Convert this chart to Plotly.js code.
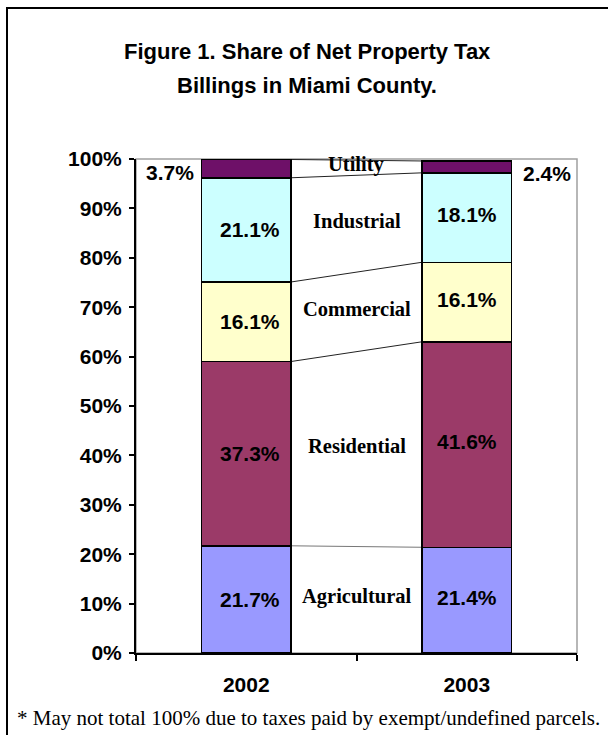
<!DOCTYPE html>
<html>
<head>
<meta charset="utf-8">
<script src="https://cdn.plot.ly/plotly-3.0.1.min.js"></script>
<style>
  html, body { margin: 0; padding: 0; background: #ffffff; }
  #frame { position: absolute; left: 6px; top: 7px; width: 900px; height: 900px; border: 2px solid #000; box-sizing: border-box; }
  #chart { position: absolute; left: 0; top: 0; width: 608px; height: 735px; }
</style>
</head>
<body>
<div id="frame"></div>
<div id="chart"></div>
<script>
// ---- data ----
const years = ['2002', '2003'];
const categories = ['Agricultural', 'Residential', 'Commercial', 'Industrial', 'Utility'];
const agricultural = [21.7, 21.4];
const residential = [37.3, 41.6];
const commercial = [16.1, 16.1];
const industrial = [21.1, 18.1];
const utility = [3.7, 2.4];
const yTickValues = [0, 10, 20, 30, 40, 50, 60, 70, 80, 90, 100];
const yTickLabels = ['0%', '10%', '20%', '30%', '40%', '50%', '60%', '70%', '80%', '90%', '100%'];
const titleLines = ['Figure 1. Share of Net Property Tax', 'Billings in Miami County.'];
const footnote = '* May not total 100% due to taxes paid by exempt/undefined parcels.';

// ---- styling ----
const seriesValues = [agricultural, residential, commercial, industrial, utility];
const colors = ['#9999ff', '#9b3a68', '#ffffcc', '#ccffff', '#6e1068'];
const barWidth = 0.405;
const sans = 'Liberation Sans, Arial, sans-serif';
const serif = 'Liberation Serif, Times New Roman, serif';

const traces = seriesValues.map((vals, i) => ({
  type: 'bar',
  name: categories[i],
  x: years,
  y: vals,
  width: barWidth,
  marker: { color: colors[i], line: { color: '#000', width: 1.5 } },
  hoverinfo: 'skip'
}));

// cumulative tops and midpoints
const cum = [], mid = [];
years.forEach((_, j) => {
  let s = 0;
  seriesValues.forEach((vals, i) => {
    if (!cum[i]) { cum[i] = []; mid[i] = []; }
    mid[i][j] = s + vals[j] / 2;
    s += vals[j];
    cum[i][j] = s;
  });
});

const shapes = [
  // plot-area border (grey, top and right)
  { type: 'rect', xref: 'paper', yref: 'paper', x0: 0, x1: 1, y0: 0, y1: 1,
    line: { color: '#a0a0a0', width: 1.5 }, layer: 'below' }
];
// series lines connecting segment tops
cum.forEach((c, i) => {
  shapes.push({ type: 'line', xref: 'x', yref: 'y',
    x0: 0 + barWidth / 2, x1: 1 - barWidth / 2, y0: c[0], y1: c[1],
    line: { color: i === 0 ? '#777' : '#222', width: 1 }, layer: 'below' });
});

const valueFont = { family: sans, size: 21, color: '#000', weight: 'bold' };
const annotations = [];
// value labels
seriesValues.forEach((vals, i) => {
  vals.forEach((v, j) => {
    const lab = v.toFixed(1) + '%';
    if (i === seriesValues.length - 1) {
      annotations.push({ x: j === 0 ? j - barWidth / 2 : j + barWidth / 2, y: mid[i][j],
        xref: 'x', yref: 'y', text: lab, showarrow: false,
        xanchor: j === 0 ? 'right' : 'left', xshift: j === 0 ? -6 : 10, yshift: j === 0 ? -4 : -7,
        font: valueFont });
    } else {
      annotations.push({ x: j, y: mid[i][j], xref: 'x', yref: 'y', text: lab,
        showarrow: false, xanchor: 'center', yanchor: 'middle',
        xshift: j === 0 ? 4 : 0, yshift: j === 1 ? 3 : 0, font: valueFont });
    }
  });
});
// category labels between bars
categories.forEach((c, i) => {
  annotations.push({ x: 0.5, y: (mid[i][0] + mid[i][1]) / 2, xref: 'x', yref: 'y',
    text: c, showarrow: false, xanchor: 'center', yanchor: 'middle', yshift: 3,
    font: { family: serif, size: 20.5, color: '#000', weight: 'bold' } });
});
// title lines
titleLines.forEach((t, k) => {
  annotations.push({ x: 0.388, y: k === 0 ? 1.217 : 1.148, xref: 'paper', yref: 'paper',
    text: t, showarrow: false, xanchor: 'center', yanchor: 'middle',
    font: { family: sans, size: 22, color: '#000', weight: 'bold' } });
});
// footnote
annotations.push({ x: -0.275, y: -0.132, xref: 'paper', yref: 'paper', text: footnote,
  showarrow: false, xanchor: 'left', yanchor: 'middle',
  font: { family: serif, size: 21, color: '#000' } });

const layout = {
  width: 608, height: 735,
  margin: { l: 136, r: 31, t: 159, b: 82, pad: 0 },
  paper_bgcolor: 'rgba(0,0,0,0)',
  plot_bgcolor: '#ffffff',
  barmode: 'stack',
  bargap: 0,
  showlegend: false,
  xaxis: {
    type: 'category', range: [-0.5, 1.5], tickson: 'boundaries',
    ticks: 'outside', ticklen: 6, tickwidth: 2, tickcolor: '#000',
    showline: true, linecolor: '#000', linewidth: 2,
    showgrid: false, zeroline: false, ticklabelstandoff: 12,
    tickfont: { family: sans, size: 21, color: '#000', weight: 'bold' }
  },
  yaxis: {
    range: [0, 100], tickvals: yTickValues, ticktext: yTickLabels,
    ticks: 'outside', ticklen: 5, tickwidth: 2, tickcolor: '#000',
    showline: true, linecolor: '#000', linewidth: 2,
    showgrid: false, zeroline: false, ticklabelstandoff: 3,
    tickfont: { family: sans, size: 21, color: '#000', weight: 'bold' }
  },
  shapes: shapes,
  annotations: annotations
};

Plotly.newPlot('chart', traces, layout, { displayModeBar: false, staticPlot: true });
</script>
</body>
</html>
